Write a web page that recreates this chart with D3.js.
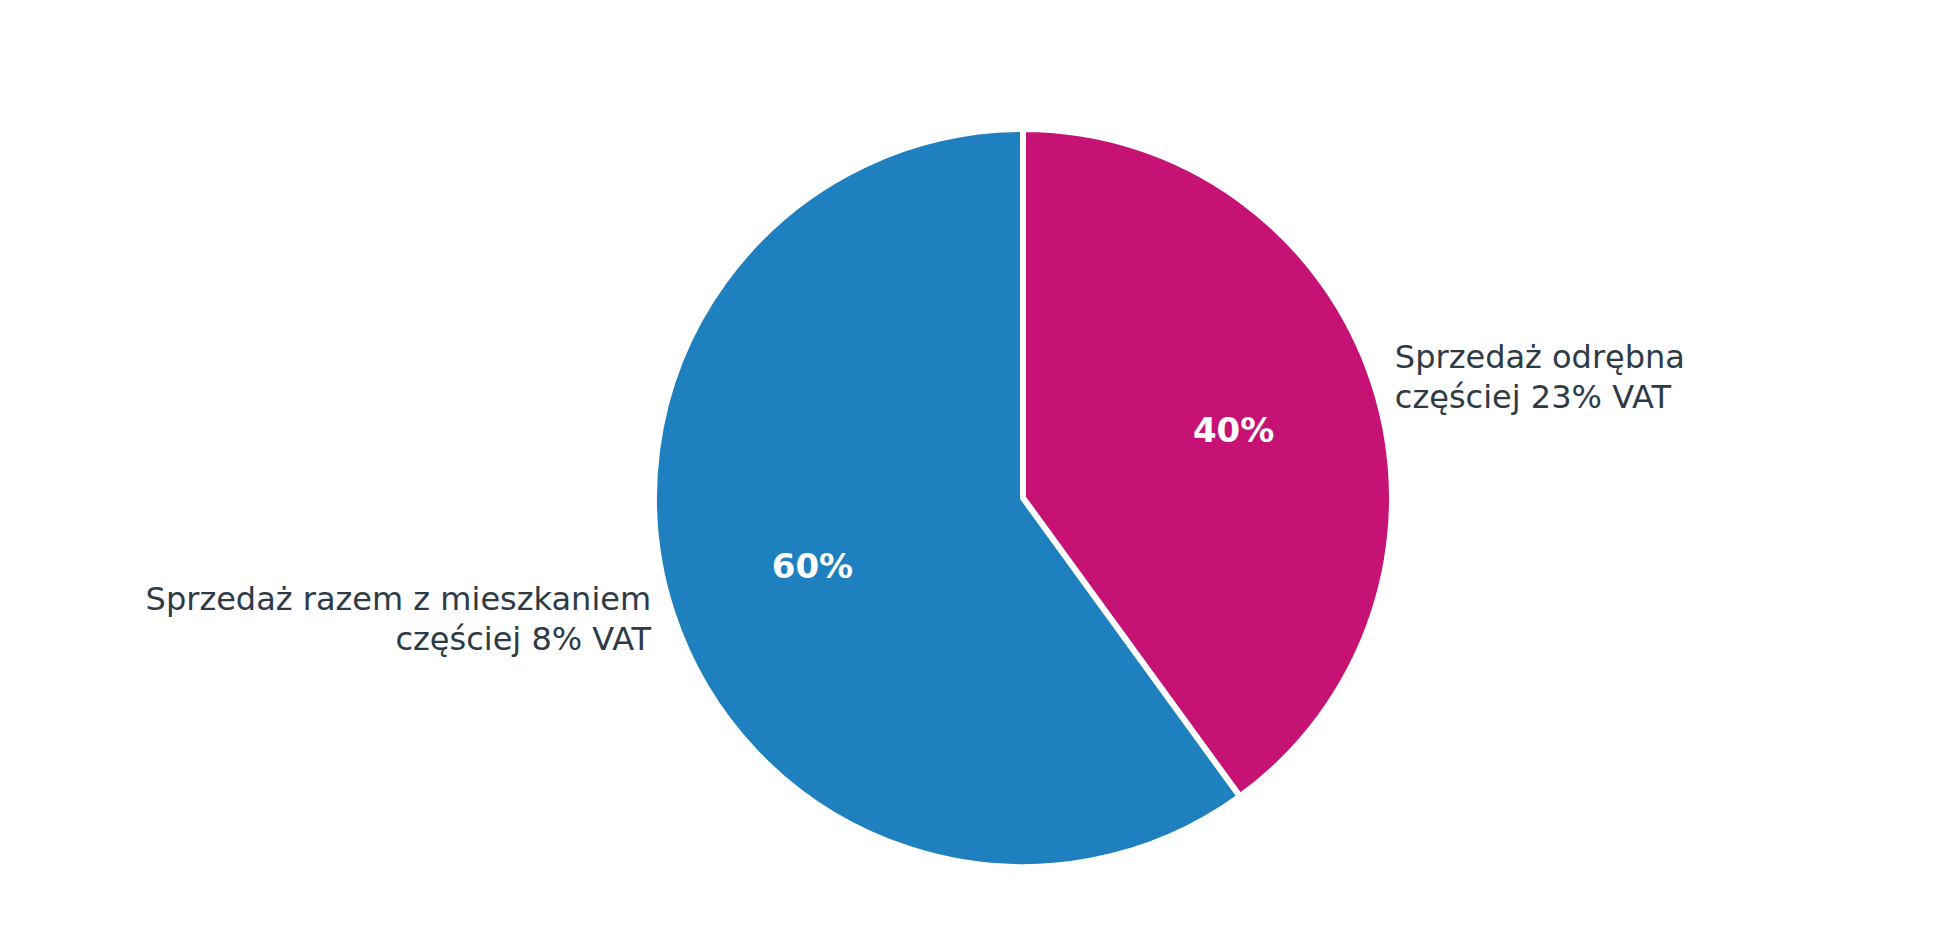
<!DOCTYPE html>
<meta charset="utf-8">
<html>
<head>
<style>
  body { margin: 0; background: #fff; }
  text { font-family: "DejaVu Sans", sans-serif; }
  .label { fill: #2e3a46; font-size: 32px; }
  .pct { fill: #fff; font-size: 34px; font-weight: bold; }
</style>
</head>
<body>
<script src="https://d3js.org/d3.v7.min.js"></script>
<script>
// data
var categories = ["Sprzedaż odrębna|częściej 23% VAT", "Sprzedaż razem z mieszkaniem|częściej 8% VAT"];
var values = [40, 60];
var colors = ["#c51274", "#1f80c0"];

var width = 1940, height = 940;
var cx = 1023, cy = 498, r = 369;

var svg = d3.select("body").append("svg")
    .attr("width", width)
    .attr("height", height);

var g = svg.append("g").attr("transform", "translate(" + cx + "," + cy + ")");

var data = categories.map(function (c, i) { return { name: c, value: values[i], color: colors[i] }; });

var pie = d3.pie().sort(null).value(function (d) { return d.value; });
var arc = d3.arc().innerRadius(0).outerRadius(r);
var pctArc = d3.arc().innerRadius(r * 0.6).outerRadius(r * 0.6);
var arcs = pie(data);

g.selectAll("path")
    .data(arcs)
    .enter().append("path")
    .attr("d", arc)
    .attr("fill", function (d) { return d.data.color; })
    .attr("stroke", "#fff")
    .attr("stroke-width", 6)
    .attr("stroke-linejoin", "round");

g.selectAll(".pct")
    .data(arcs)
    .enter().append("text")
    .attr("class", "pct")
    .attr("text-anchor", "middle")
    .attr("dominant-baseline", "central")
    .attr("transform", function (d) { return "translate(" + pctArc.centroid(d) + ")"; })
    .text(function (d) { return d.data.value + "%"; });

// outside labels
g.selectAll(".label")
    .data(arcs)
    .enter().append("text")
    .attr("class", "label")
    .each(function (d) {
        var mid = (d.startAngle + d.endAngle) / 2;
        var right = Math.sin(mid) > 0;
        var lr = r + 22;
        var x = Math.sin(mid) * lr, y = -Math.cos(mid) * lr;
        var t = d3.select(this)
            .attr("text-anchor", right ? "start" : "end");
        var lines = d.data.name.split("|");
        lines.forEach(function (l, i) {
            t.append("tspan")
                .attr("x", right ? x : x)
                .attr("y", y + (i - 0.5) * 40 + 11)
                .text(l);
        });
    });
</script>
</body>
</html>
